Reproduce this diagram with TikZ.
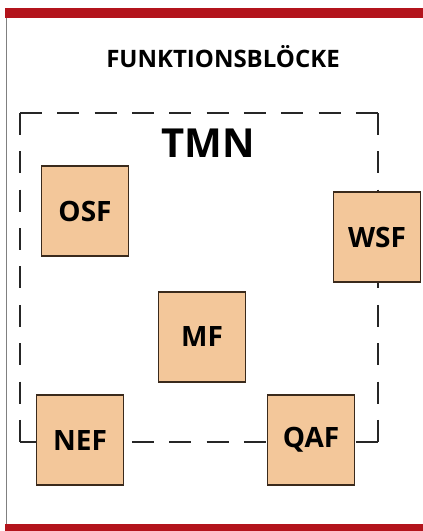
\documentclass[tikz,border=0pt]{standalone}
\usepackage{fontspec}
\setmainfont{Open Sans}
\usepackage{tikz}
\usetikzlibrary{positioning}
\definecolor{barred}{HTML}{B3141C}
\definecolor{blockfill}{HTML}{F3C79A}
\definecolor{blockline}{HTML}{3A2A1C}
\tikzset{
	fblock/.style={draw=blockline, fill=blockfill, line width=1.5pt,
		minimum width=87pt, minimum height=90pt, inner sep=0pt,
		font=\fontsize{28}{28}\selectfont\bfseries},
	% gap given per side so every side starts and ends on a dash
	boundary/.style={line width=2pt, black!85, dash pattern=on 22pt off #1}
}
\begin{document}
\begin{tikzpicture}[x=1pt, y=-1pt]
	\useasboundingbox (0,0) rectangle (423,531);

	% frame: red bars and left rule
	\fill[barred] (5,8) rectangle (423,18);
	\fill[barred] (5,524) rectangle (423,531);
	\draw[gray, line width=0.8pt] (6,18) -- (6,524);

	% title
	\node[font=\fontsize{24}{24}\selectfont\bfseries] (title) at (223,57) {FUNKTIONSBLÖCKE};

	% TMN boundary
	\coordinate (tl) at (20,113);
	\coordinate (tr) at (378,113);
	\coordinate (bl) at (20,442);
	\coordinate (br) at (378,442);
	\draw[boundary=15.33pt] (tl) -- (tr);
	\draw[boundary=16.37pt] (tr) -- (br);
	\draw[boundary=15.33pt] (bl) -- (br);
	\draw[boundary=16.37pt] (tl) -- (bl);
	\node[font=\fontsize{40}{40}\selectfont\bfseries] (tmn) at (208,143) {TMN};

	% function blocks
	\node[fblock] (osf) at (85,211) {OSF};
	\node[fblock] (wsf) at (377,237) {WSF};
	\node[fblock] (mf)  at (202,337) {MF};
	\node[fblock] (nef) at (80,440) {NEF};
	\node[fblock] (qaf) at (311,440) {QAF};
\end{tikzpicture}
\end{document}
